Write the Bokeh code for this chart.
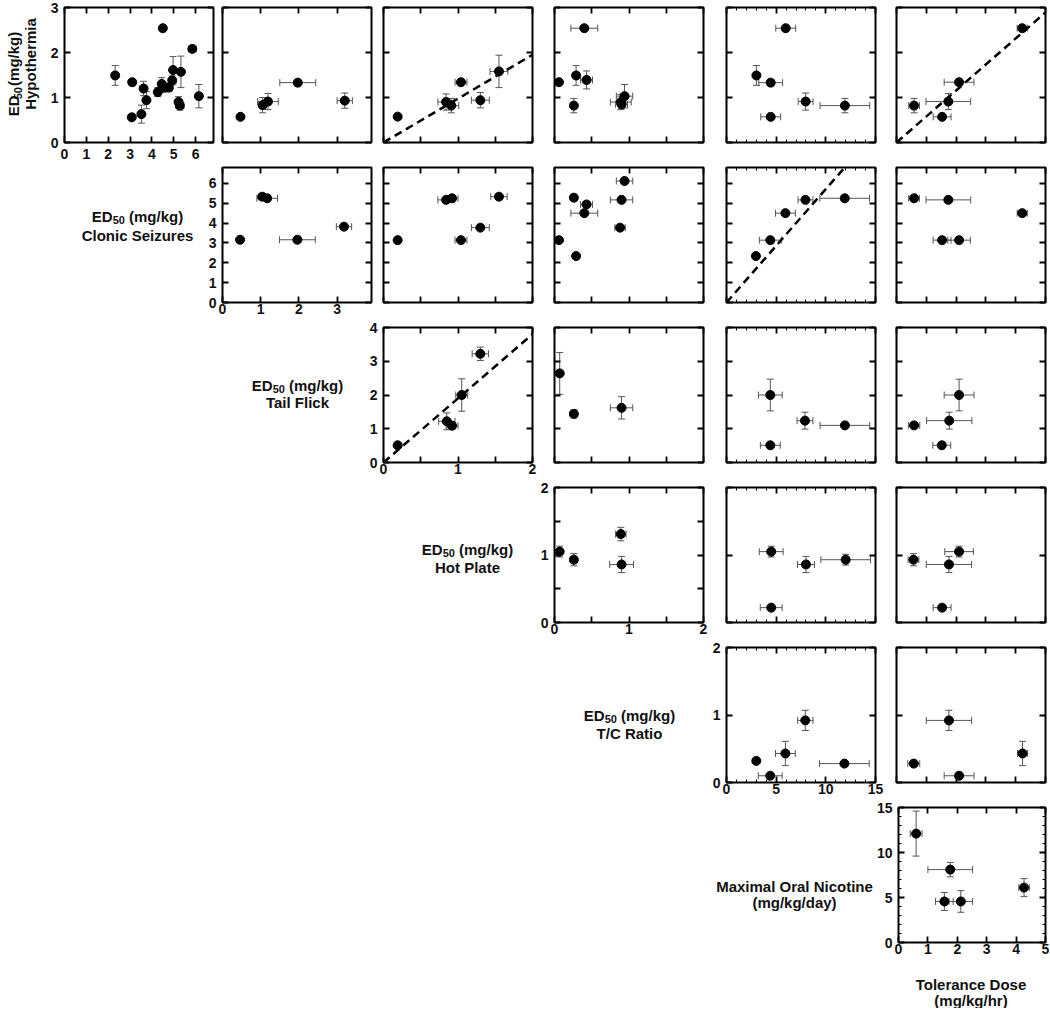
import math
from bokeh.plotting import figure
from bokeh.models import (Range1d, LinearAxis, FixedTicker, Whisker, TeeHead,
                          ColumnDataSource, CustomJSTickFormatter, CustomLabelingPolicy)
from bokeh.layouts import row, column
from bokeh.core.properties import value
from bokeh.embed import file_html
from bokeh.resources import INLINE

# ---------------- data ----------------
# each entry: (x, y, x_err, y_err)
# row 0: ED50 Hypothermia (y)
hypo_vs_seiz = [(2.32, 1.49, 0, 0.22), (3.10, 1.34, 0, 0.06), (3.08, 0.56, 0, 0.03),
                (3.52, 0.63, 0, 0.20), (3.62, 1.20, 0, 0.16), (3.75, 0.94, 0.10, 0.19),
                (4.27, 1.12, 0.15, 0.10), (4.45, 1.30, 0.10, 0.14), (4.50, 2.54, 0.08, 0.05),
                (4.55, 1.22, 0.10, 0.10), (4.78, 1.22, 0.15, 0.08), (4.93, 1.38, 0, 0.10),
                (4.97, 1.61, 0, 0.30), (5.22, 0.90, 0, 0.12), (5.28, 0.82, 0.18, 0.10),
                (5.33, 1.57, 0, 0.35), (5.85, 2.08, 0.17, 0.04), (6.15, 1.03, 0, 0.26)]
hypo_vs_tail = [(0.47, 0.57, 0.03, 0.03), (1.05, 0.83, 0.08, 0.17), (1.19, 0.91, 0.27, 0.18),
                (1.97, 1.33, 0.47, 0.07), (3.20, 0.93, 0.20, 0.17)]
hypo_vs_hot = [(0.19, 0.575, 0, 0), (0.84, 0.90, 0.11, 0.18), (0.91, 0.82, 0.10, 0.16),
               (1.04, 1.34, 0.08, 0.06), (1.30, 0.94, 0.12, 0.17), (1.55, 1.58, 0.12, 0.36)]
hypo_vs_tc = [(0.06, 1.34, 0, 0.05), (0.26, 0.82, 0, 0.16), (0.29, 1.49, 0, 0.22),
              (0.40, 2.54, 0.18, 0.03), (0.43, 1.39, 0.08, 0.20), (0.89, 0.90, 0.14, 0.17),
              (0.90, 0.85, 0.08, 0.10), (0.94, 1.03, 0.11, 0.26)]
hypo_vs_nic = [(3.01, 1.49, 0, 0.22), (4.45, 1.33, 1.2, 0.07), (4.45, 0.57, 1.0, 0.03),
               (5.96, 2.54, 1.0, 0.04), (7.97, 0.91, 0.75, 0.19), (11.92, 0.82, 2.5, 0.16)]
hypo_vs_tol = [(0.59, 0.82, 0.18, 0.16), (1.53, 0.57, 0.30, 0.03), (1.74, 0.91, 0.75, 0.18),
               (2.10, 1.34, 0.50, 0.07), (4.22, 2.54, 0.17, 0.04)]
# row 1: ED50 Clonic Seizures (y)
seiz_vs_tail = [(0.46, 3.16, 0.04, 0.10), (1.04, 5.33, 0.08, 0.15), (1.17, 5.25, 0.27, 0.10),
                (1.96, 3.16, 0.47, 0.05), (3.18, 3.82, 0.20, 0.10)]
seiz_vs_hot = [(0.19, 3.14, 0, 0), (0.84, 5.17, 0.11, 0), (0.92, 5.25, 0.08, 0.12),
               (1.04, 3.14, 0.08, 0), (1.30, 3.77, 0.12, 0), (1.55, 5.33, 0.11, 0)]
seiz_vs_tc = [(0.06, 3.14, 0, 0), (0.26, 5.28, 0.04, 0.12), (0.29, 2.34, 0, 0),
              (0.40, 4.50, 0.18, 0), (0.43, 4.94, 0.08, 0), (0.88, 3.77, 0.07, 0),
              (0.90, 5.17, 0.15, 0), (0.94, 6.12, 0.11, 0)]
seiz_vs_nic = [(2.96, 2.34, 0, 0), (4.41, 3.14, 1.1, 0), (5.93, 4.50, 1.0, 0),
               (7.95, 5.17, 0.75, 0), (11.90, 5.25, 2.5, 0.15)]
seiz_vs_tol = [(0.59, 5.25, 0.18, 0.15), (1.74, 5.17, 0.75, 0), (1.53, 3.14, 0.30, 0),
               (2.10, 3.14, 0.38, 0), (4.22, 4.50, 0.17, 0)]
# row 2: ED50 Tail Flick (y)
tail_vs_hot = [(0.19, 0.51, 0, 0), (0.85, 1.22, 0.11, 0.25), (0.92, 1.09, 0.08, 0.10),
               (1.05, 2.00, 0.08, 0.48), (1.30, 3.22, 0.11, 0.20)]
tail_vs_tc = [(0.07, 2.64, 0, 0.62), (0.26, 1.44, 0.05, 0.12), (0.90, 1.62, 0.15, 0.33)]
tail_vs_nic = [(4.41, 2.00, 1.2, 0.47), (4.41, 0.51, 1.0, 0), (7.90, 1.24, 0.8, 0.25),
               (11.92, 1.10, 2.5, 0.05)]
tail_vs_tol = [(0.59, 1.10, 0.19, 0.05), (1.52, 0.51, 0.30, 0), (1.77, 1.24, 0.76, 0.25),
               (2.10, 2.00, 0.50, 0.47)]
# row 3: ED50 Hot Plate (y)
hot_vs_tc = [(0.07, 1.05, 0, 0.08), (0.26, 0.93, 0.04, 0.09), (0.89, 1.31, 0.07, 0.10),
             (0.90, 0.86, 0.16, 0.12)]
hot_vs_nic = [(4.5, 1.05, 1.2, 0.08), (4.5, 0.22, 1.1, 0), (8.0, 0.86, 0.85, 0.12),
              (12.0, 0.93, 2.5, 0.08)]
hot_vs_tol = [(0.57, 0.93, 0.18, 0.09), (1.53, 0.22, 0.30, 0), (1.76, 0.86, 0.76, 0.12),
              (2.10, 1.05, 0.48, 0.08)]
# row 4: ED50 T/C Ratio (y)
tc_vs_nic = [(3.0, 0.32, 0, 0), (4.4, 0.10, 1.2, 0), (5.93, 0.43, 1.0, 0.18),
             (7.93, 0.92, 0.77, 0.15), (11.87, 0.28, 2.5, 0.03)]
tc_vs_tol = [(0.58, 0.28, 0.20, 0.03), (1.76, 0.92, 0.76, 0.15), (2.10, 0.10, 0.50, 0),
             (4.23, 0.43, 0.17, 0.18)]
# row 5: Maximal Oral Nicotine (y)
nic_vs_tol = [(0.60, 12.1, 0.20, 2.5), (1.76, 8.1, 0.76, 0.8), (1.56, 4.56, 0.30, 1.0),
              (2.12, 4.56, 0.40, 1.2), (4.27, 6.1, 0.18, 1.0)]

# dashed reference lines (x endpoints, y endpoints)
line_hypo_hot = ([0, 2.0], [0, 1.95])
line_hypo_tol = ([0, 5.0], [0, 2.89])
line_seiz_nic = ([0, 11.9], [0, 6.8])
line_tail_hot = ([0, 2.0], [0, 3.8])

# axes: columns (x variables) and rows (y variables)
x_max = [6.82, 3.9, 2.0, 2.0, 15.0, 5.0]
y_max = [3.0, 6.8, 4.0, 2.0, 2.0, 15.0]
x_ticks = [[0, 1, 2, 3, 4, 5, 6], [0, 1, 2, 3], [0, 1, 2], [0, 1, 2], [0, 5, 10, 15],
           [0, 1, 2, 3, 4, 5]]
x_minor = [[], [], [0.5, 1.5], [0.5, 1.5], list(range(16)), []]
y_ticks = [[0, 1, 2, 3], [0, 1, 2, 3, 4, 5, 6], [0, 1, 2, 3, 4], [0, 1, 2], [0, 1, 2],
           [0, 5, 10, 15]]
y_minor = [[], [], [], [], [], list(range(16))]
y_minor_hot_diag = [0.5, 1.5]

# row titles: first line (None = "ED50 (mg/kg)" with subscript), second line
row_label_1 = [None, None, None, None, None, "Maximal Oral Nicotine"]
row_label_2 = ["Hypothermia", "Clonic Seizures", "Tail Flick", "Hot Plate", "T/C Ratio",
               "(mg/kg/day)"]
ed50_parts = ["ED", "50", "(mg/kg)"]
x_label = ["Tolerance Dose", "(mg/kg/hr)"]

panels = {
    (0, 0): hypo_vs_seiz, (0, 1): hypo_vs_tail, (0, 2): hypo_vs_hot, (0, 3): hypo_vs_tc,
    (0, 4): hypo_vs_nic, (0, 5): hypo_vs_tol,
    (1, 1): seiz_vs_tail, (1, 2): seiz_vs_hot, (1, 3): seiz_vs_tc, (1, 4): seiz_vs_nic,
    (1, 5): seiz_vs_tol,
    (2, 2): tail_vs_hot, (2, 3): tail_vs_tc, (2, 4): tail_vs_nic, (2, 5): tail_vs_tol,
    (3, 3): hot_vs_tc, (3, 4): hot_vs_nic, (3, 5): hot_vs_tol,
    (4, 4): tc_vs_nic, (4, 5): tc_vs_tol,
    (5, 5): nic_vs_tol,
}
ref_lines = {(0, 2): line_hypo_hot, (0, 5): line_hypo_tol, (1, 4): line_seiz_nic,
             (2, 2): line_tail_hot}

# ---------------- layout geometry ----------------
FONT = "Liberation Sans"
TXT = "#111111"
EC = "#555555"
L = [64, 222, 383, 554, 726, 896]       # frame left per column
FW = 149                                # frame width
B = [0, 217, 377, 543, 714, 885, 1049]  # column boundaries
LW = [40, 198, 359, 530, 702, 873]      # width of the row-label area left of each diagonal
FH = 135
TOPS = [7, 1, 7, 7, 7, 7]               # border above each row's frames
BOTS = [24, 18, 18, 18, 18, 18]         # border below each row's frames
XSTAND = [6, 1, 1, 1, 1, 1]             # x tick label standoff of each diagonal
YSTAND = 6
XL_H = 48                               # height of the bottom x-label strip
BIG, SMALL, DROP = 15, 11, 4            # title font sizes and subscript drop (px)

# row-title placement: (centre x, baseline of line 1, baseline of line 2), px from the
# strip's left / top; row 0 is rotated: (centre y line 1, baseline x line 1,
# centre y line 2, baseline x line 2)
row0_pos = (88, 13, 80, 30)
row_label_pos = [None, (137, 56, 77), (297, 69, 89), (467, 74, 95),
                 (629, 81, 102), (794, 94, 113)]
x_label_pos = (970.5, 24, 40)

# Liberation Sans Bold advance widths (per 1000 em)
CHAR_W = {"E": 667, "D": 722, "5": 556, "0": 556, " ": 278, "(": 333, "m": 889,
          "g": 611, "/": 278, "k": 556, ")": 333, "H": 722, "y": 556, "p": 611,
          "o": 611, "t": 333, "h": 611, "e": 556, "r": 389, "i": 278, "a": 556}

FMT = "return Number.isInteger(tick) ? String(tick) : '';"
NO_LABELS = "for (const i of indices) indices.unset(i)"


def text_w(s, size):
    return sum(CHAR_W[ch] for ch in s) * size / 1000.0


def make_axis(ticks, minor, labels, minor_len=3, standoff=1):
    ax = LinearAxis(
        ticker=FixedTicker(ticks=ticks, minor_ticks=minor),
        formatter=CustomJSTickFormatter(code=FMT),
        axis_line_color=None,
        major_tick_in=6, major_tick_out=0, major_tick_line_width=1.8,
        major_tick_line_color="black",
        minor_tick_in=minor_len, minor_tick_out=0,
        minor_tick_line_width=1.8 if minor_len >= 6 else 1,
        minor_tick_line_color="black",
        major_label_standoff=standoff if labels else 0,
        major_label_text_font=FONT, major_label_text_font_style="bold",
        major_label_text_font_size="14px" if labels else "0px",
        major_label_text_color=TXT,
    )
    if not labels:
        ax.major_label_policy = CustomLabelingPolicy(code=NO_LABELS)
    return ax


def minor_len_for(minor):
    return 6 if minor and len(minor) <= 2 else 3


def blank_fig(w, h):
    p = figure(width=w, height=h, x_range=Range1d(0, w), y_range=Range1d(0, h),
               x_axis_type=None, y_axis_type=None, toolbar_location=None,
               output_backend="svg", min_border_left=0, min_border_right=0,
               min_border_top=0, min_border_bottom=0)
    p.outline_line_color = None
    p.background_fill_color = "white"
    p.border_fill_color = "white"
    return p


def put_text(p, x, y, s, size, align="left", angle=0.0):
    p.text(x=[x], y=[y], text=[s], angle=angle, text_align=align,
           text_baseline="alphabetic", text_font=value(FONT), text_font_style="bold",
           text_font_size=f"{size}px", text_color=TXT)


def draw_ed50(p, h, centre, base, rotated):
    w_ed = text_w("ED", BIG)
    w_50 = text_w("50", SMALL)
    w_sp = text_w(" ", BIG)
    total = w_ed + w_50 + w_sp + text_w("(mg/kg)", BIG)
    offs = [0.0, w_ed, w_ed + w_50 + w_sp]
    sizes = [BIG, SMALL, BIG]
    drops = [0, DROP, 0]
    for part, off, size, drop in zip(ed50_parts, offs, sizes, drops):
        if rotated:
            put_text(p, base + drop, h - centre - total / 2 + off, part, size,
                     angle=math.pi / 2)
        else:
            put_text(p, centre - total / 2 + off, h - base - drop, part, size)


def row_height(r):
    return TOPS[r] + FH + BOTS[r]


def label_fig(r):
    h = row_height(r)
    p = blank_fig(LW[r], h)
    if r == 0:
        c1, b1, c2, b2 = row0_pos
        draw_ed50(p, h, c1, b1, True)
        w2 = text_w(row_label_2[0], BIG)
        put_text(p, b2, h - c2 - w2 / 2, row_label_2[0], BIG, angle=math.pi / 2)
    else:
        c, b1, b2 = row_label_pos[r]
        if row_label_1[r] is None:
            draw_ed50(p, h, c, b1, False)
        else:
            put_text(p, c, h - b1, row_label_1[r], BIG, align="center")
        put_text(p, c, h - b2, row_label_2[r], BIG, align="center")
    return p


def make_panel(r, c):
    diag = (r == c)
    if diag:
        w = B[c + 1] - LW[r]
        bl = L[c] - LW[r]
    else:
        w = B[c + 1] - B[c]
        bl = L[c] - B[c]
    br = B[c + 1] - L[c] - FW
    p = figure(width=w, height=row_height(r),
               x_range=Range1d(0, x_max[c]), y_range=Range1d(0, y_max[r]),
               x_axis_type=None, y_axis_type=None,
               toolbar_location=None, output_backend="svg",
               min_border_left=bl, min_border_right=br,
               min_border_top=TOPS[r], min_border_bottom=BOTS[r])
    p.outline_line_color = "black"
    p.outline_line_width = 2
    p.outline_line_alpha = 1.0
    p.background_fill_color = "white"
    p.border_fill_color = "white"

    ym = y_minor[r]
    if r == 3 and diag:
        ym = y_minor_hot_diag
    xl = minor_len_for(x_minor[c])
    yl = minor_len_for(ym)
    p.add_layout(make_axis(x_ticks[c], x_minor[c], diag, xl, XSTAND[r]), "below")
    p.add_layout(make_axis(x_ticks[c], x_minor[c], False, xl), "above")
    p.add_layout(make_axis(y_ticks[r], ym, diag, yl, YSTAND), "left")
    p.add_layout(make_axis(y_ticks[r], ym, False, yl), "right")

    data = panels[(r, c)]
    xs = [d[0] for d in data]
    ys = [d[1] for d in data]

    if (r, c) in ref_lines:
        lx, ly = ref_lines[(r, c)]
        p.line(lx, ly, line_color="black", line_width=2.5, line_dash="8 5")

    ye = [d for d in data if d[3] > 0]
    if ye:
        src = ColumnDataSource(dict(base=[d[0] for d in ye],
                                    lower=[d[1] - d[3] for d in ye],
                                    upper=[d[1] + d[3] for d in ye]))
        p.add_layout(Whisker(source=src, base="base", lower="lower", upper="upper",
                             dimension="height", line_color=EC, line_width=1,
                             upper_head=TeeHead(size=7, line_color=EC, line_width=1),
                             lower_head=TeeHead(size=7, line_color=EC, line_width=1),
                             level="underlay"))
    xe = [d for d in data if d[2] > 0]
    if xe:
        src = ColumnDataSource(dict(base=[d[1] for d in xe],
                                    lower=[d[0] - d[2] for d in xe],
                                    upper=[d[0] + d[2] for d in xe]))
        p.add_layout(Whisker(source=src, base="base", lower="lower", upper="upper",
                             dimension="width", line_color=EC, line_width=1,
                             upper_head=TeeHead(size=7, line_color=EC, line_width=1),
                             lower_head=TeeHead(size=7, line_color=EC, line_width=1),
                             level="underlay"))

    p.scatter(xs, ys, size=9, fill_color="black", line_color="black")
    return p


rows = []
for r in range(6):
    rows.append(row([label_fig(r)] + [make_panel(r, c) for c in range(r, 6)]))

# bottom strip with the x-axis title of the last column
xl_fig = blank_fig(B[6], XL_H)
xc, xb1, xb2 = x_label_pos
put_text(xl_fig, xc, XL_H - xb1, x_label[0], BIG, align="center")
put_text(xl_fig, xc, XL_H - xb2, x_label[1], BIG, align="center")
rows.append(xl_fig)

layout = column(rows)

open("out.html", "w").write(file_html(layout, INLINE))
